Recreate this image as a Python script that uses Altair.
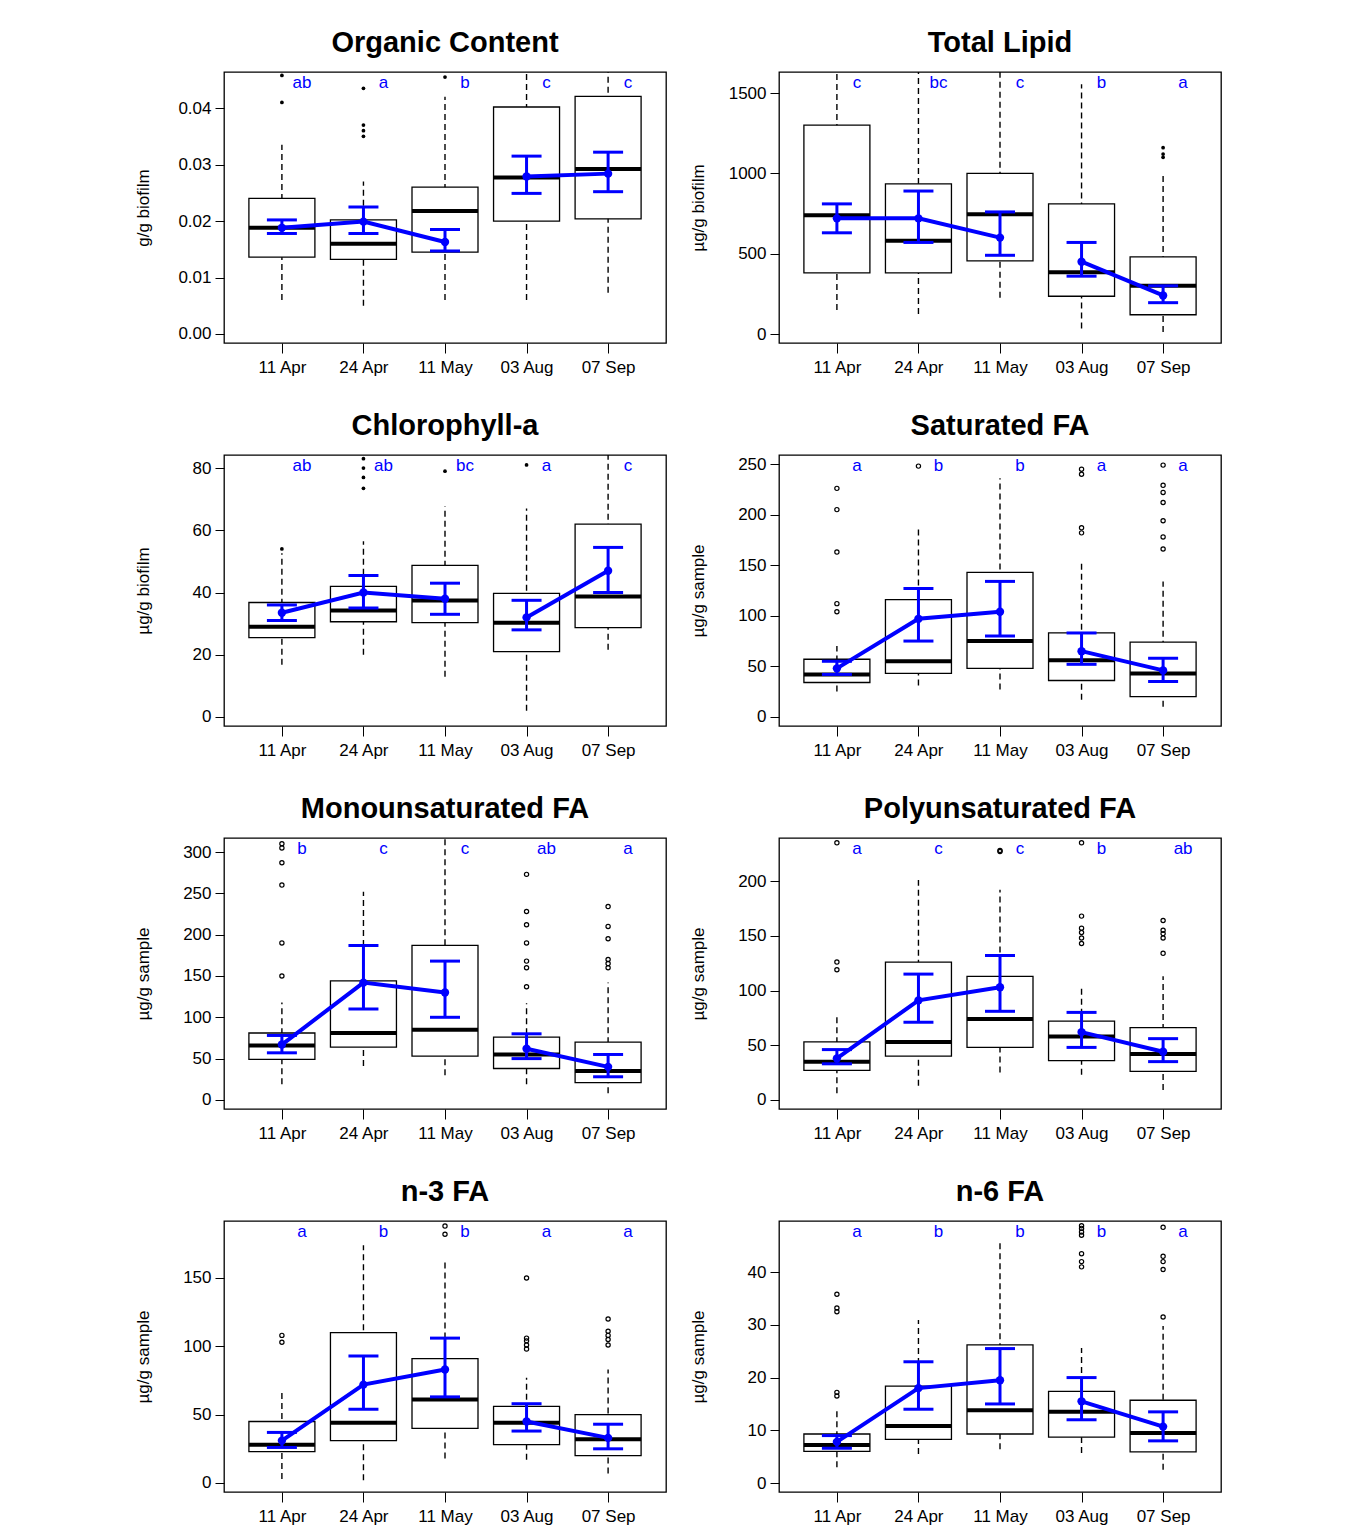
import pandas as pd
import altair as alt

DATES = ["11 Apr", "24 Apr", "11 May", "03 Aug", "07 Sep"]
SEASON = ["spring", "spring", "spring", "summer", "summer"]

# box stats per date: whisker low, q1, median, q3, whisker high
OC_BOX = [[0.006, 0.0136, 0.0188, 0.024, 0.0335], [0.005, 0.0132, 0.016, 0.0202, 0.027],
          [0.006, 0.0145, 0.0218, 0.026, 0.042], [0.006, 0.020, 0.0277, 0.0402, 0.05],
          [0.0073, 0.0204, 0.0292, 0.0421, 0.05]]
OC_OUT = [[0.041, 0.0458], [0.0435, 0.037, 0.036, 0.035], [0.0455], [], []]
OC_MEAN = [0.0188, 0.0199, 0.0163, 0.0279, 0.0284]
OC_CI = [[0.0178, 0.0202], [0.0178, 0.0225], [0.0147, 0.0185], [0.0249, 0.0315], [0.0252, 0.0322]]
OC_LET = ["ab", "a", "b", "c", "c"]

TL_BOX = [[150, 380, 740, 1300, 1800], [125, 380, 580, 935, 1800], [225, 455, 745, 1000, 1800],
          [35, 235, 385, 810, 1555], [12, 120, 300, 480, 1000]]
TL_OUT = [[], [], [], [], [1100, 1120, 1160]]
TL_MEAN = [720, 720, 600, 450, 240]
TL_CI = [[630, 810], [570, 890], [490, 760], [360, 570], [195, 300]]
TL_LET = ["c", "bc", "c", "b", "a"]

CH_BOX = [[16.8, 25.5, 29, 36.8, 52.6], [20, 30.6, 34.2, 42, 56.5], [12.9, 30.3, 37.4, 48.7, 67.7],
          [2, 21, 30.3, 39.7, 67], [21.6, 28.7, 38.7, 62, 90]]
CH_OUT = [[54], [73.5, 77, 80, 83], [79], [81], []]
CH_MEAN = [33.5, 40, 38, 32, 47]
CH_CI = [[31, 36], [35, 45.5], [33, 43], [28, 37.5], [40, 54.5]]
CH_LET = ["ab", "ab", "bc", "a", "c"]

SF_BOX = [[25, 34, 42, 57, 70], [31, 43, 55, 116, 188], [27, 48, 75, 143, 236],
          [17, 36, 56, 83, 154], [10, 20, 43, 74, 134]]
SF_OUT = [[226, 205, 163, 112, 104], [248], [], [240, 245, 187, 182], [249, 229, 222, 212, 194, 178, 166]]
SF_MEAN = [48, 97, 104, 65, 46]
SF_CI = [[42, 55], [75, 127], [80, 134], [52, 83], [35, 58]]
SF_LET = ["a", "b", "b", "a", "a"]

MU_BOX = [[19, 49, 66, 81, 118], [41, 64, 81, 144, 252], [30, 53, 85, 187, 400],
          [19, 38, 55, 76, 117], [8, 21, 35, 70, 142]]
MU_OUT = [[310, 305, 287, 260, 190, 150], [], [], [273, 228, 212, 190, 168, 160, 137],
          [234, 210, 195, 170, 165, 160]]
MU_MEAN = [67, 142, 130, 62, 40]
MU_CI = [[57, 78], [110, 187], [100, 168], [50, 80], [28, 55]]
MU_LET = ["b", "c", "c", "ab", "a"]

PU_BOX = [[6, 27, 35, 53, 79], [13, 40, 53, 126, 201], [25, 48, 74, 113, 192],
          [23, 36, 58, 72, 103], [9, 26, 42, 66, 113]]
PU_OUT = [[235, 126, 119], [], [228, 227], [235, 168, 157, 153, 148, 143], [164, 155, 152, 148, 134]]
PU_MEAN = [38, 91, 103, 62, 44]
PU_CI = [[33, 46], [71, 115], [81, 132], [48, 80], [35, 56]]
PU_LET = ["a", "c", "c", "b", "ab"]

N3_BOX = [[3, 23, 28, 45, 67], [2, 31, 44, 110, 174], [18, 40, 61, 91, 163],
          [17, 28, 44, 56, 77], [7, 20, 32, 50, 83]]
N3_OUT = [[108, 103], [], [188, 182], [150, 106, 104, 101, 98], [120, 111, 108, 105, 101]]
N3_MEAN = [31, 72, 83, 45, 33]
N3_CI = [[26, 37], [54, 93], [63, 106], [38, 58], [25, 43]]
N3_LET = ["a", "b", "b", "a", "a"]

N6_BOX = [[3, 6, 7.2, 9.3, 13.6], [5.5, 8.3, 10.8, 18.4, 30.9], [6.4, 9.3, 13.8, 26.2, 45.5],
          [5.7, 8.7, 13.5, 17.4, 25.6], [2.5, 5.9, 9.5, 15.7, 29.8]]
N6_OUT = [[35.8, 33.2, 32.5, 17.2, 16.5], [], [], [48.8, 48.3, 47.6, 47, 43.5, 42, 41],
          [48.5, 43, 42, 40.5, 31.5]]
N6_MEAN = [7.8, 18, 19.5, 15.5, 10.7]
N6_CI = [[6.6, 9], [14, 23], [15, 25.5], [12, 20], [8, 13.5]]
N6_LET = ["a", "b", "b", "b", "a"]

FONT = "Liberation Sans"
BLUE = "#0000ff"
W, H = 442, 271


def panel(title, ytitle, box, out, mean, ci, let, domain, ticks, fmt, filled):
    df = pd.DataFrame({
        "date": DATES, "season": SEASON,
        "lo": [b[0] for b in box], "q1": [b[1] for b in box], "med": [b[2] for b in box],
        "q3": [b[3] for b in box], "hi": [b[4] for b in box],
        "mean": mean, "cl": [c[0] for c in ci], "ch": [c[1] for c in ci], "let": let,
    })
    odf = pd.DataFrame([{"date": d, "v": v} for d, vs in zip(DATES, out) for v in vs])
    if odf.empty:
        odf = pd.DataFrame({"date": [], "v": []})
    sc = alt.Scale(domain=domain, nice=False, zero=False)
    ax = alt.Axis(values=ticks, format=fmt, title=ytitle, grid=False, domain=False,
                  tickColor="black", tickSize=9, labelColor="black", labelFontSize=17,
                  titleFontSize=17, titleFontWeight="normal", titleColor="black",
                  labelFont=FONT, titleFont=FONT, labelPadding=4, titlePadding=22,
                  minExtent=50, maxExtent=50)
    x = alt.X("date:N", sort=DATES,
              scale=alt.Scale(type="point", domain=DATES, padding=0.71),
              axis=alt.Axis(title=None, labelAngle=0, domain=False, tickColor="black",
                            tickSize=10, labelColor="black", labelFontSize=17,
                            labelFont=FONT, labelPadding=6))

    def Y(f):
        return alt.Y(f, type="quantitative", scale=sc, axis=ax)

    base = alt.Chart(df)
    whisk = base.mark_rule(color="black", strokeDash=[6, 4], strokeWidth=1.4, clip=True).encode(
        x=x, y=Y("lo"), y2="hi")
    boxm = base.mark_bar(fill="white", stroke="black", strokeWidth=1.3, size=66,
                         opacity=1).encode(x=x, y=Y("q1"), y2="q3")
    medm = base.mark_tick(color="black", thickness=4, size=66, opacity=1).encode(
        x=x, y=Y("med"))
    outm = alt.Chart(odf).mark_point(
        shape="circle", size=14 if filled else 18, color="black", filled=filled,
        strokeWidth=1.2, opacity=1, clip=True).encode(x=x, y=Y("v"))
    err = base.mark_rule(color=BLUE, strokeWidth=3).encode(x=x, y=Y("cl"), y2="ch")
    caplo = base.mark_tick(color=BLUE, thickness=3, size=30, opacity=1).encode(x=x, y=Y("cl"))
    caphi = base.mark_tick(color=BLUE, thickness=3, size=30, opacity=1).encode(x=x, y=Y("ch"))
    line = base.mark_line(color=BLUE, strokeWidth=4).encode(x=x, y=Y("mean"), detail="season:N")
    pts = base.mark_circle(color=BLUE, size=70, opacity=1).encode(x=x, y=Y("mean"))
    lets = base.mark_text(color=BLUE, fontSize=17, font=FONT, dx=20).encode(
        x=x, y=alt.value(11), text="let:N")
    return alt.layer(whisk, boxm, medm, outm, err, caplo, caphi, line, pts, lets).properties(
        width=W, height=H,
        view=alt.ViewBackground(stroke="black", strokeWidth=1.3),
        title=alt.TitleParams(title, fontSize=29, font=FONT, fontWeight="bold",
                              color="black", offset=14))


p = [
    panel("Organic Content", "g/g biofilm", OC_BOX, OC_OUT, OC_MEAN, OC_CI, OC_LET,
          [-0.0016, 0.0464], [0, 0.01, 0.02, 0.03, 0.04], ".2f", True),
    panel("Total Lipid", "µg/g biofilm", TL_BOX, TL_OUT, TL_MEAN, TL_CI, TL_LET,
          [-56, 1631], [0, 500, 1000, 1500], "d", True),
    panel("Chlorophyll-a", "µg/g biofilm", CH_BOX, CH_OUT, CH_MEAN, CH_CI, CH_LET,
          [-2.9, 84.2], [0, 20, 40, 60, 80], "d", True),
    panel("Saturated FA", "µg/g sample", SF_BOX, SF_OUT, SF_MEAN, SF_CI, SF_LET,
          [-9, 259], [0, 50, 100, 150, 200, 250], "d", False),
    panel("Monounsaturated FA", "µg/g sample", MU_BOX, MU_OUT, MU_MEAN, MU_CI, MU_LET,
          [-11, 317], [0, 50, 100, 150, 200, 250, 300], "d", False),
    panel("Polyunsaturated FA", "µg/g sample", PU_BOX, PU_OUT, PU_MEAN, PU_CI, PU_LET,
          [-8.3, 239.4], [0, 50, 100, 150, 200], "d", False),
    panel("n-3 FA", "µg/g sample", N3_BOX, N3_OUT, N3_MEAN, N3_CI, N3_LET,
          [-6.6, 191.7], [0, 50, 100, 150], "d", False),
    panel("n-6 FA", "µg/g sample", N6_BOX, N6_OUT, N6_MEAN, N6_CI, N6_LET,
          [-1.7, 49.7], [0, 10, 20, 30, 40], "d", False),
]

rows = [alt.hconcat(p[i], p[i + 1], spacing=21) for i in range(0, 8, 2)]
chart = (
    alt.vconcat(*rows, spacing=35)
    .properties(padding={"left": 125, "top": 20, "right": 10, "bottom": 10})
    .configure_view(stroke="black", strokeWidth=1.3)
    .configure(font=FONT)
)

chart.save("out.html", embed_options={"renderer": "svg", "actions": False})
